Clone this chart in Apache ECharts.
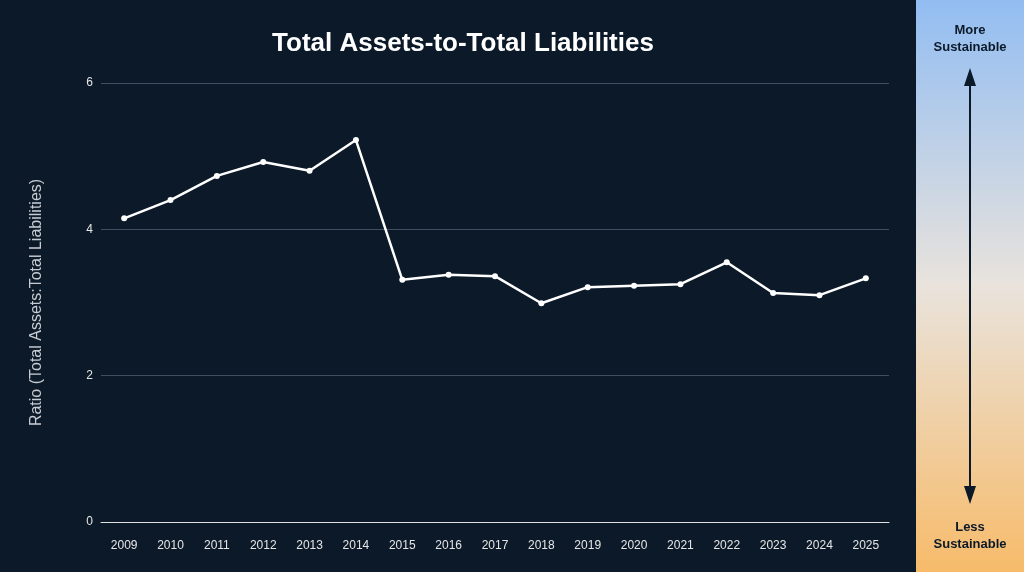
<!DOCTYPE html>
<html>
<head>
<meta charset="utf-8">
<script src="https://cdn.jsdelivr.net/npm/echarts@6/dist/echarts.min.js"></script>
<style>html,body{margin:0;padding:0;background:#0b1929;}#main{width:1024px;height:572px;}</style>
</head>
<body>
<div id="main"></div>
<script>
var years = ['2009','2010','2011','2012','2013','2014','2015','2016','2017','2018','2019','2020','2021','2022','2023','2024','2025'];
var ratios = [4.15,4.40,4.73,4.92,4.80,5.22,3.31,3.38,3.36,2.99,3.21,3.23,3.25,3.55,3.13,3.10,3.33];
var yTicks = [0, 2, 4, 6];

var chart = echarts.init(document.getElementById('main'));
var font = '"Liberation Sans", Arial, sans-serif';
chart.setOption({
  backgroundColor: '#0b1929',
  title: {
    text: 'Total Assets-to-Total Liabilities', left: 458, top: 26, textAlign: 'center',
    textStyle: { color: '#fff', fontSize: 26, fontWeight: 'bold', fontFamily: font }
  },
  grid: { left: 101, right: 135, top: 83, bottom: 50 },
  xAxis: {
    type: 'category', data: years, boundaryGap: true,
    axisLine: { lineStyle: { color: '#e0e0e0', width: 1 } },
    axisTick: { show: false },
    axisLabel: { color: '#e6e6e6', fontSize: 12, margin: 18, fontFamily: font }
  },
  yAxis: {
    type: 'value', min: yTicks[0], max: yTicks[yTicks.length - 1], interval: 2,
    name: 'Ratio (Total Assets:Total Liabilities)', nameLocation: 'middle', nameGap: 56,
    nameTextStyle: { color: '#c8ccd2', fontSize: 16, fontFamily: font },
    axisLabel: { color: '#e6e6e6', fontSize: 12, margin: 8, fontFamily: font },
    axisLine: { show: false }, axisTick: { show: false },
    splitLine: { lineStyle: { color: '#3f4f60', width: 1 } }
  },
  series: [{
    type: 'line', data: ratios, symbol: 'circle', symbolSize: 6,
    lineStyle: { color: '#fff', width: 2.5 }, itemStyle: { color: '#fff' }
  }],
  graphic: [
    { type: 'rect', shape: { x: 916, y: 0, width: 108, height: 572 },
      style: { fill: new echarts.graphic.LinearGradient(0, 0, 0, 1, [
        { offset: 0, color: '#92bdf2' }, { offset: 0.5, color: '#e9e3dc' }, { offset: 1, color: '#f7bb6a' }]) } },
    { type: 'text', x: 970, y: 22, style: { text: 'More\nSustainable', fill: '#0b1929', font: 'bold 13px ' + font, textAlign: 'center', lineHeight: 17 } },
    { type: 'text', x: 970, y: 519, style: { text: 'Less\nSustainable', fill: '#0b1929', font: 'bold 13px ' + font, textAlign: 'center', lineHeight: 17 } },
    { type: 'line', shape: { x1: 970, y1: 80, x2: 970, y2: 492 }, style: { stroke: '#0b1929', lineWidth: 2 } },
    { type: 'polygon', shape: { points: [[970, 68], [964, 86], [976, 86]] }, style: { fill: '#0b1929' } },
    { type: 'polygon', shape: { points: [[970, 504], [964, 486], [976, 486]] }, style: { fill: '#0b1929' } }
  ]
});
</script>
</body>
</html>
